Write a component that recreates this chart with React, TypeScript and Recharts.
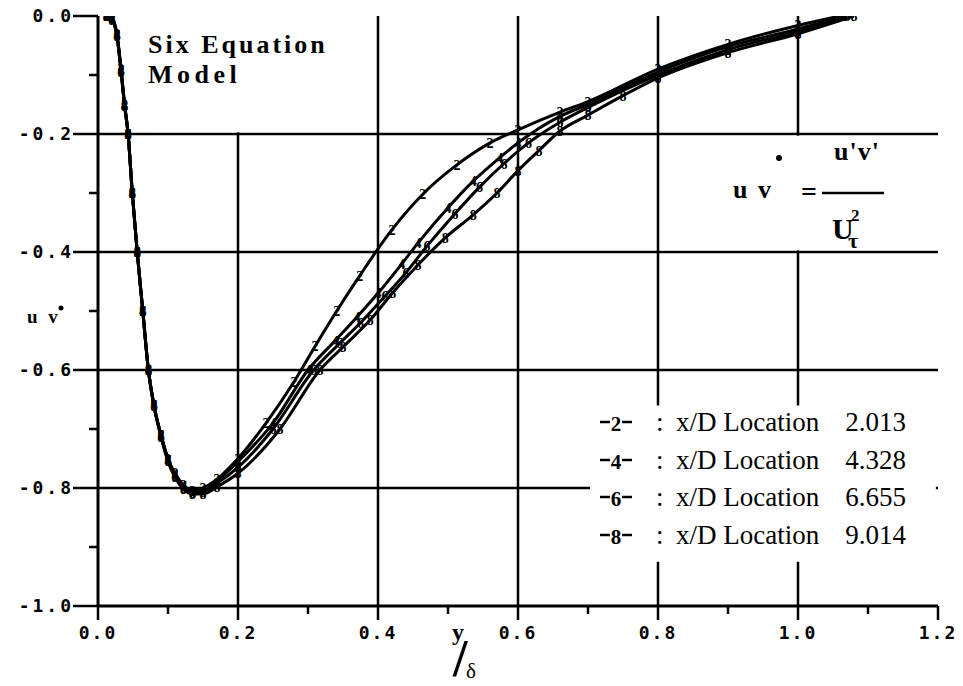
import React from "react";
import {
  LineChart,
  Line,
  XAxis,
  YAxis,
  CartesianGrid,
  ReferenceArea,
  Legend,
} from "recharts";

// y/delta positions and uv* values
const s2X = [0.012, 0.02, 0.027, 0.033, 0.038, 0.043, 0.049, 0.056, 0.064, 0.072, 0.08, 0.09, 0.1, 0.11, 0.122, 0.135, 0.15, 0.17, 0.2, 0.24, 0.28, 0.31, 0.341, 0.374, 0.42, 0.464, 0.513, 0.56, 0.6, 0.66, 0.7, 0.8, 0.9, 1.0, 1.06];
const s2Y = [0, -0.004, -0.03, -0.09, -0.15, -0.2, -0.3, -0.4, -0.5, -0.6, -0.66, -0.71, -0.75, -0.775, -0.795, -0.805, -0.8, -0.785, -0.75, -0.69, -0.62, -0.56, -0.5, -0.44, -0.362, -0.302, -0.252, -0.215, -0.193, -0.163, -0.145, -0.09, -0.048, -0.016, 0];

const s4X = [0.012, 0.02, 0.027, 0.033, 0.038, 0.043, 0.049, 0.056, 0.064, 0.072, 0.08, 0.09, 0.1, 0.11, 0.122, 0.135, 0.15, 0.17, 0.2, 0.25, 0.3, 0.339, 0.37, 0.4, 0.434, 0.457, 0.5, 0.536, 0.574, 0.6, 0.66, 0.7, 0.8, 0.9, 1.0, 1.065];
const s4Y = [0, -0.005, -0.032, -0.092, -0.15, -0.2, -0.3, -0.4, -0.5, -0.6, -0.66, -0.71, -0.752, -0.778, -0.797, -0.806, -0.804, -0.788, -0.755, -0.69, -0.6, -0.55, -0.51, -0.47, -0.42, -0.385, -0.325, -0.28, -0.24, -0.215, -0.17, -0.15, -0.095, -0.052, -0.022, 0];

const s6X = [0.012, 0.02, 0.027, 0.033, 0.038, 0.043, 0.049, 0.056, 0.064, 0.072, 0.08, 0.09, 0.1, 0.11, 0.122, 0.135, 0.15, 0.17, 0.2, 0.25, 0.308, 0.345, 0.375, 0.41, 0.44, 0.47, 0.51, 0.545, 0.58, 0.615, 0.66, 0.7, 0.8, 0.9, 1.0, 1.07];
const s6Y = [0, -0.005, -0.033, -0.094, -0.152, -0.2, -0.3, -0.4, -0.5, -0.6, -0.66, -0.712, -0.753, -0.78, -0.8, -0.808, -0.806, -0.792, -0.765, -0.7, -0.6, -0.555, -0.52, -0.475, -0.435, -0.39, -0.335, -0.29, -0.25, -0.215, -0.18, -0.155, -0.1, -0.057, -0.026, 0];

const s8X = [0.012, 0.02, 0.027, 0.033, 0.038, 0.043, 0.049, 0.056, 0.064, 0.072, 0.08, 0.09, 0.1, 0.11, 0.122, 0.135, 0.15, 0.17, 0.2, 0.26, 0.317, 0.35, 0.389, 0.421, 0.457, 0.496, 0.536, 0.57, 0.6, 0.63, 0.66, 0.7, 0.75, 0.8, 0.9, 1.0, 1.08];
const s8Y = [0, -0.006, -0.034, -0.095, -0.153, -0.2, -0.3, -0.4, -0.5, -0.6, -0.661, -0.713, -0.755, -0.782, -0.802, -0.81, -0.81, -0.798, -0.775, -0.7, -0.6, -0.561, -0.515, -0.469, -0.422, -0.376, -0.337, -0.3, -0.262, -0.228, -0.195, -0.168, -0.135, -0.105, -0.062, -0.03, 0];

const seriesMarks = ["2", "4", "6", "8"];
const seriesLocations = ["2.013", "4.328", "6.655", "9.014"];

const xTicks = [0, 0.1, 0.2, 0.3, 0.4, 0.5, 0.6, 0.7, 0.8, 0.9, 1.0, 1.1, 1.2];
const yTicks = [-1.0, -0.9, -0.8, -0.7, -0.6, -0.5, -0.4, -0.3, -0.2, -0.1, 0];
const gridX = [0.2, 0.4, 0.6, 0.8, 1.0];
const gridY = [-0.2, -0.4, -0.6, -0.8];

const zip = (xs: number[], ys: number[]) => xs.map((x, i) => ({ x, y: ys[i] }));
const seriesData = [zip(s2X, s2Y), zip(s4X, s4Y), zip(s6X, s6Y), zip(s8X, s8Y)];

const monoFont = "'DejaVu Sans Mono', monospace";
const serifFont = "'Liberation Serif', 'DejaVu Serif', serif";

const isMajor = (v: number) => Math.round(v * 10) % 2 === 0;

function XTick(props: any) {
  const { x, y, payload } = props;
  const major = isMajor(payload.value);
  return (
    <g>
      <line x1={x} x2={x} y1={y} y2={y + (major ? 14 : 8)} stroke="#000" strokeWidth={2.5} />
      {major && (
        <text x={x} y={y + 33} textAnchor="middle" fontFamily={monoFont} fontWeight="bold" fontSize={18} letterSpacing={2} fill="#000">
          {payload.value.toFixed(1)}
        </text>
      )}
    </g>
  );
}

function YTick(props: any) {
  const { x, y, payload } = props;
  const major = isMajor(payload.value);
  return (
    <g>
      <line x1={x - (major ? 25 : 9)} x2={x} y1={y} y2={y} stroke="#000" strokeWidth={2.5} />
      {major && (
        <text x={x - 24} y={y + 6} textAnchor="end" fontFamily={monoFont} fontWeight="bold" fontSize={18} letterSpacing={3} fill="#000">
          {payload.value.toFixed(1)}
        </text>
      )}
    </g>
  );
}

const makeDot = (mark: string) => (props: any) => {
  const { cx, cy, index } = props;
  return (
    <text key={index} x={cx} y={cy + 5} textAnchor="middle" fontFamily={serifFont} fontWeight="bold" fontSize={14} fill="#000">
      {mark}
    </text>
  );
};

function LegendRows(props: any) {
  const { payload } = props;
  return (
    <div style={{ fontFamily: serifFont, fontSize: 27, color: "#000", lineHeight: "30px" }}>
      {(payload || []).map((entry: any, i: number) => (
        <div key={i} style={{ position: "relative", height: 37.5 }}>
          <svg width={40} height={37.5} style={{ position: "absolute", left: 0, top: 0 }}>
            <line x1={6} x2={38} y1={17} y2={17} stroke="#000" strokeWidth={2.5} />
            <rect x={16} y={7} width={12} height={21} fill="#fff" />
            <text x={22} y={26} textAnchor="middle" fontFamily={serifFont} fontWeight="bold" fontSize={21}>
              {seriesMarks[i]}
            </text>
          </svg>
          <span style={{ position: "absolute", left: 62, top: 2 }}>:</span>
          <span style={{ position: "absolute", left: 82, top: 2 }}>x/D Location</span>
          <span style={{ position: "absolute", right: 0, top: 2 }}>{seriesLocations[i]}</span>
        </div>
      ))}
    </div>
  );
}

export default function App() {
  return (
    <div style={{ position: "absolute", left: 0, top: 0, width: 963, height: 686, background: "#fff" }}>
      <LineChart width={963} height={686} margin={{ top: 16, right: 25, bottom: 0, left: 0 }}>
        <CartesianGrid
          stroke="#000"
          strokeWidth={2.5}
          verticalValues={gridX}
          horizontalValues={gridY}
        />
        <XAxis
          type="number"
          dataKey="x"
          domain={[0, 1.2]}
          ticks={xTicks}
          height={80}
          tickSize={0}
          tickMargin={0}
          tickLine={false}
          tick={<XTick />}
          axisLine={{ stroke: "#000", strokeWidth: 3 }}
          allowDataOverflow
        />
        <XAxis xAxisId="top" type="number" orientation="top" domain={[0, 1.2]} height={0} tick={false} tickLine={false} axisLine={{ stroke: "#000", strokeWidth: 3 }} />
        <YAxis
          type="number"
          dataKey="y"
          domain={[-1, 0]}
          ticks={yTicks}
          width={98}
          tickSize={0}
          tickMargin={0}
          tickLine={false}
          tick={<YTick />}
          axisLine={{ stroke: "#000", strokeWidth: 3 }}
          allowDataOverflow
        />
        <YAxis yAxisId="right" type="number" orientation="right" domain={[-1, 0]} width={0} tick={false} tickLine={false} axisLine={{ stroke: "#000", strokeWidth: 3 }} />
        <ReferenceArea x1={0.075} x2={0.396} y1={0} y2={-0.197} fill="#fff" fillOpacity={1} stroke="none" />
        <ReferenceArea x1={0.803} x2={1.197} y1={-0.203} y2={-0.397} fill="#fff" fillOpacity={1} stroke="none" />
        <ReferenceArea x1={0.703} x2={1.197} y1={-0.66} y2={-0.925} fill="#fff" fillOpacity={1} stroke="none" />
        {seriesData.map((d, i) => (
          <Line
            key={seriesMarks[i]}
            data={d}
            dataKey="y"
            name={seriesLocations[i]}
            type="monotone"
            stroke="#000"
            strokeWidth={3}
            dot={makeDot(seriesMarks[i])}
            activeDot={false}
            isAnimationActive={false}
          />
        ))}
        <Legend
          layout="vertical"
          align="center"
          verticalAlign="middle"
          content={<LegendRows />}
          wrapperStyle={{ position: "absolute", left: 594, top: 405, width: 312 }}
        />
      </LineChart>
      <svg width={963} height={686} style={{ position: "absolute", left: 0, top: 0, pointerEvents: "none" }}>
        <g fontFamily={serifFont} fontWeight="bold" fill="#000">
          <text x={148} y={53} fontSize={26} letterSpacing={3}>Six  Equation</text>
          <text x={148} y={83} fontSize={26} letterSpacing={4.5}>Model</text>
          <text x={27} y={323} fontSize={19} letterSpacing={3}>u v</text>
          <circle cx={61} cy={308} r={2.5} />
          <text x={733} y={198} fontSize={26} letterSpacing={2}>u v</text>
          <circle cx={779} cy={158} r={3} />
          <text x={801} y={201} fontSize={28}>=</text>
          <line x1={822} x2={884} y1={193} y2={193} stroke="#000" strokeWidth={2.5} />
          <text x={834} y={160} fontSize={26} letterSpacing={1}>u'v'</text>
          <text x={832} y={239} fontSize={30}>U</text>
          <text x={851} y={221} fontSize={17}>2</text>
          <text x={848} y={248} fontSize={22}>τ</text>
          <text x={452} y={640} fontSize={24}>y</text>
          <text x={453} y={676} fontSize={52}>/</text>
          <text x={466} y={678} fontSize={21} fontWeight="normal">δ</text>
        </g>
      </svg>
    </div>
  );
}
